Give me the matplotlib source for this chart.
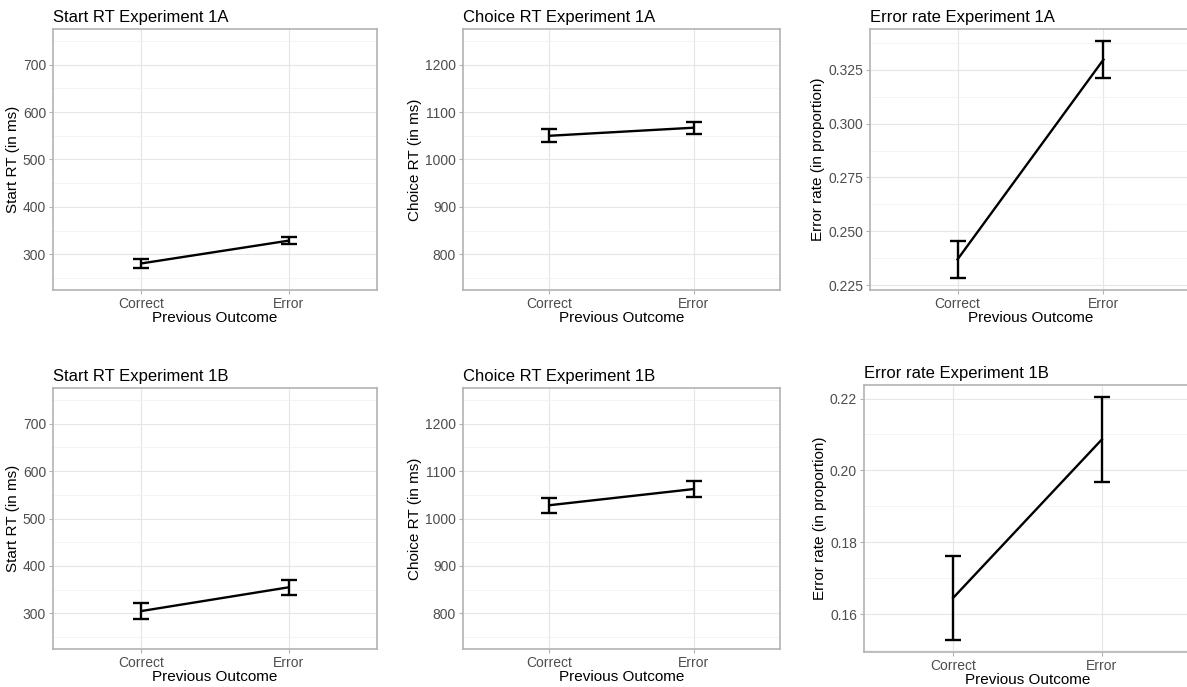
import matplotlib.pyplot as plt
import numpy as np

plt.rcParams['font.family'] = ['Liberation Sans', 'DejaVu Sans']

cats = ["Correct", "Error"]

titles = ["Start RT Experiment 1A", "Choice RT Experiment 1A", "Error rate Experiment 1A",
          "Start RT Experiment 1B", "Choice RT Experiment 1B", "Error rate Experiment 1B"]
ylabels = ["Start RT (in ms)", "Choice RT (in ms)", "Error rate (in proportion)"] * 2

start_1a = [281, 329]
start_1a_se = [9, 8]
choice_1a = [1050, 1067]
choice_1a_se = [14, 13]
err_1a = [0.237, 0.3297]
err_1a_se = [0.0087, 0.0087]

start_1b = [305, 355]
start_1b_se = [16, 16]
choice_1b = [1028, 1062]
choice_1b_se = [16, 16]
err_1b = [0.1645, 0.2086]
err_1b_se = [0.0117, 0.0118]

means = [start_1a, choice_1a, err_1a, start_1b, choice_1b, err_1b]
ses = [start_1a_se, choice_1a_se, err_1a_se, start_1b_se, choice_1b_se, err_1b_se]

yticks = [[300, 400, 500, 600, 700], [800, 900, 1000, 1100, 1200], [0.225, 0.250, 0.275, 0.300, 0.325],
          [300, 400, 500, 600, 700], [800, 900, 1000, 1100, 1200], [0.16, 0.18, 0.20, 0.22]]
yminor = [[250, 350, 450, 550, 650, 750], [750, 850, 950, 1050, 1150, 1250],
          [0.2375, 0.2625, 0.2875, 0.3125, 0.3375],
          [250, 350, 450, 550, 650, 750], [750, 850, 950, 1050, 1150, 1250],
          [0.15, 0.17, 0.19, 0.21]]
ylims = [(225, 775), (725, 1275), None, (225, 775), (725, 1275), None]
yfmt = ["%d", "%d", "%.3f", "%d", "%d", "%.2f"]

W, H = 1187, 687
# axes boxes in pixels: left, top, right, bottom
boxes = [(53, 29, 377, 290), (463, 29, 780, 290), (870, 29, 1191, 290),
         (53, 388, 377, 649), (463, 388, 780, 649), (864, 385, 1191, 652)]

fig = plt.figure(figsize=(W / 100, H / 100), dpi=100)
x = np.arange(1, 3)

for i in range(6):
    l, t, r, b = boxes[i]
    ax = fig.add_axes([l / W, 1 - b / H, (r - l) / W, (b - t) / H])
    m = np.array(means[i])
    s = np.array(ses[i])
    ax.plot(x, m, color="black", lw=1.7, zorder=3)
    ax.errorbar(x, m, yerr=s, fmt="none", ecolor="black", elinewidth=1.7,
                capsize=6, capthick=1.7, zorder=3)
    ax.set_xlim(0.4, 2.6)
    if ylims[i] is not None:
        ax.set_ylim(*ylims[i])
    else:
        lo = (m - s).min()
        hi = (m + s).max()
        pad = (hi - lo) * 0.05
        ax.set_ylim(lo - pad, hi + pad)
    ax.set_xticks(x)
    ax.set_xticklabels(cats)
    ax.set_yticks(yticks[i])
    ax.set_yticklabels([yfmt[i] % v for v in yticks[i]])
    ax.set_yticks(yminor[i], minor=True)
    ax.grid(True, which="major", color="#e6e6e6", lw=0.8)
    ax.grid(True, which="minor", axis="y", color="#f2f2f2", lw=0.6)
    ax.set_axisbelow(True)
    for sp in ax.spines.values():
        sp.set_color("#b3b3b3")
        sp.set_linewidth(1.2)
    ax.tick_params(axis="both", which="major", colors="#b3b3b3", labelcolor="#4d4d4d",
                   labelsize=10, length=3, width=0.8, pad=2)
    ax.tick_params(axis="both", which="minor", length=0)
    ax.set_xlabel("Previous Outcome", fontsize=11, labelpad=0)
    ax.set_ylabel(ylabels[i], fontsize=11, labelpad=2)
    ax.set_title(titles[i], fontsize=12, loc="left", pad=5)

fig.savefig("out.png", dpi=100)
